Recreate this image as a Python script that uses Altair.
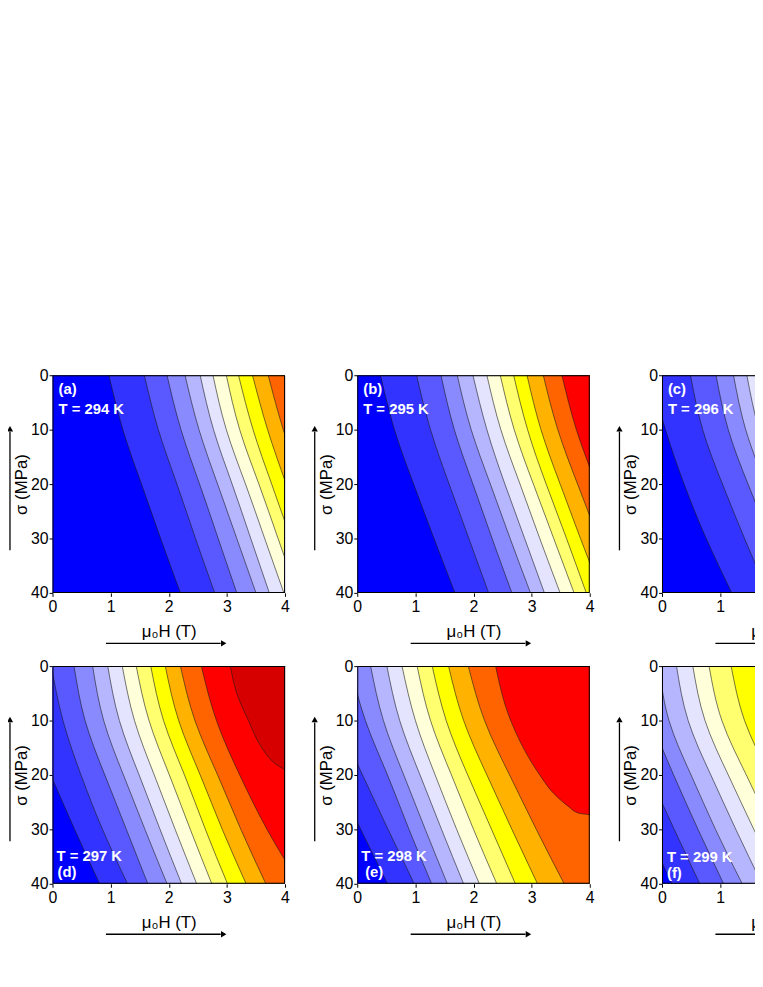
import altair as alt
import pandas as pd

# ---------------- data ----------------
BAND_COLORS = ["#0000FF", "#3333FF", "#5959FF", "#8A8AFF", "#B6B6FF", "#E4E4FF",
               "#FFFFD9", "#FFFF70", "#FFFF00", "#FFB300", "#FF6400", "#FF0000", "#D60000"]

SIGMA = [0, 10, 20, 30, 40]          # MPa rows at which contour positions were read

# contour k (k = 1, 2, ...) separates band k-1 (left) from band k (right); values are mu0H (T)
A_CONTOURS = [
    [0.97, 1.21, 1.53, 1.86, 2.20],
    [1.58, 1.82, 2.14, 2.46, 2.79],
    [1.97, 2.21, 2.53, 2.85, 3.17],
    [2.28, 2.52, 2.84, 3.17, 3.50],
    [2.54, 2.77, 3.09, 3.41, 3.73],
    [2.76, 2.99, 3.32, 3.65, 3.98],
    [2.99, 3.22, 3.55, 3.88, 4.21],
    [3.20, 3.45, 3.77, 4.10, 4.43],
    [3.44, 3.70, 4.02, 4.35, 4.67],
    [3.71, 3.97, 4.29, 4.62, 4.95],
]
B_CONTOURS = [
    [0.40, 0.64, 0.97, 1.32, 1.68],
    [1.02, 1.26, 1.58, 1.92, 2.26],
    [1.44, 1.67, 1.99, 2.32, 2.66],
    [1.72, 1.96, 2.29, 2.63, 2.98],
    [1.99, 2.23, 2.54, 2.88, 3.22],
    [2.23, 2.47, 2.80, 3.14, 3.49],
    [2.46, 2.70, 3.03, 3.38, 3.73],
    [2.69, 2.93, 3.25, 3.60, 3.94],
    [2.92, 3.16, 3.49, 3.84, 4.20],
    [3.20, 3.45, 3.79, 4.15, 4.52],
    [3.52, 3.77, 4.11, 4.46, 4.82],
]
C_CONTOURS = [
    [-0.20, 0.06, 0.38, 0.76, 1.20],
    [0.49, 0.70, 1.04, 1.42, 1.82],
    [0.93, 1.14, 1.48, 1.86, 2.26],
    [1.23, 1.44, 1.78, 2.16, 2.56],
    [1.46, 1.67, 2.01, 2.39, 2.79],
    [1.70, 1.91, 2.25, 2.63, 3.03],
]
D_CONTOURS = [
    [-0.75, -0.42, -0.03, 0.38, 0.81],
    [-0.02, 0.18, 0.49, 0.86, 1.29],
    [0.37, 0.56, 0.90, 1.27, 1.64],
    [0.69, 0.88, 1.22, 1.59, 1.97],
    [0.95, 1.15, 1.49, 1.85, 2.22],
    [1.20, 1.41, 1.75, 2.11, 2.48],
    [1.44, 1.66, 2.01, 2.37, 2.74],
    [1.69, 1.91, 2.27, 2.63, 3.01],
    [1.94, 2.17, 2.54, 2.92, 3.33],
    [2.20, 2.45, 2.84, 3.24, 3.67],
    [2.56, 2.82, 3.22, 3.69, 4.25],
]
D_LAST_SIGMA = [0, 5, 10, 15, 17, 18, 19, 20, 25, 40]
D_LAST_H = [3.06, 3.17, 3.37, 3.60, 3.74, 3.84, 4.00, 4.20, 4.80, 6.50]

E_CONTOURS = [
    [-1.05, -0.75, -0.38, 0.06, 0.52],
    [-0.58, -0.31, 0.09, 0.53, 0.98],
    [-0.12, 0.14, 0.52, 0.89, 1.28],
    [0.23, 0.45, 0.80, 1.17, 1.55],
    [0.51, 0.73, 1.08, 1.45, 1.83],
    [0.77, 1.00, 1.34, 1.71, 2.10],
    [1.03, 1.26, 1.62, 2.00, 2.40],
    [1.29, 1.53, 1.90, 2.31, 2.72],
    [1.57, 1.83, 2.23, 2.66, 3.10],
    [1.91, 2.19, 2.62, 3.08, 3.56],
]
E_LAST_SIGMA = [0, 10, 20, 23.4, 26.1, 26.8, 27.1, 27.3, 28, 40]
E_LAST_H = [2.38, 2.64, 3.14, 3.38, 3.67, 3.76, 3.85, 4.00, 4.40, 6.00]

F_CONTOURS = [
    [-1.40, -1.08, -0.70, -0.27, 0.17],
    [-0.95, -0.63, -0.22, 0.21, 0.65],
    [-0.40, -0.17, 0.20, 0.62, 1.06],
    [-0.05, 0.12, 0.50, 0.92, 1.38],
    [0.25, 0.45, 0.84, 1.27, 1.72],
    [0.53, 0.74, 1.14, 1.58, 2.05],
    [0.81, 1.03, 1.45, 1.90, 2.40],
    [1.19, 1.42, 1.85, 2.32, 2.82],
    [1.62, 1.86, 2.30, 2.80, 3.30],
]

X_TICKS = [0, 0.5, 1, 1.5, 2, 2.5, 3, 3.5, 4]
Y_TICKS = [0, 5, 10, 15, 20, 25, 30, 35, 40]

# ---------------- chart ----------------
W, HGT = 235, 220
FONT = "Liberation Sans"

xscale = alt.Scale(domain=[0, 4], nice=False, zero=False)
yscale = alt.Scale(domain=[0, 40], reverse=True, nice=False, zero=False)

xaxis = alt.Axis(
    values=X_TICKS,
    labelExpr="datum.value % 1 === 0 ? '' + datum.value : ''",
    tickSize={"condition": {"test": "datum.value % 1 === 0", "value": 3.5}, "value": 2},
    title="μ₀H (T)", titlePadding=9, labelPadding=2.5,
    labelOverlap=False, labelFlush=False, domain=False, grid=False,
)
yaxis = alt.Axis(
    values=Y_TICKS,
    labelExpr="datum.value % 10 === 0 ? '' + datum.value : ''",
    tickSize={"condition": {"test": "datum.value % 10 === 0", "value": 3.5}, "value": 2},
    title="σ (MPa)", titlePadding=0, labelPadding=1,
    labelOverlap=False, labelFlush=False, domain=False, grid=False,
)

ONE = pd.DataFrame({"d": [0]})


def contour_layers(contours, extra=None):
    items = [(SIGMA, c, "natural") for c in contours]
    if extra is not None:
        items.append((extra[0], extra[1], "monotone"))
    layers = [
        alt.Chart(ONE).mark_rect(fill=BAND_COLORS[0]).encode(
            x=alt.X(datum=0, scale=xscale), x2=alt.datum(4),
            y=alt.Y(datum=0, scale=yscale), y2=alt.datum(40))
    ]
    for k, (sig, hs, interp) in enumerate(items, start=1):
        df = pd.DataFrame({"sigma": sig, "H": hs})
        layers.append(
            alt.Chart(df).mark_area(
                orient="horizontal", interpolate=interp, clip=True,
                fill=BAND_COLORS[k], stroke="#1a1a1a", strokeWidth=0.6,
            ).encode(
                y=alt.Y("sigma:Q", scale=yscale, axis=yaxis),
                x=alt.X("H:Q", scale=xscale, axis=xaxis),
                x2=alt.datum(6),
            )
        )
    return layers


def label(txt, x, y):
    return alt.Chart(pd.DataFrame({"t": [txt]})).mark_text(
        align="left", baseline="alphabetic", font=FONT, fontSize=15,
        fontWeight="bold", color="white",
    ).encode(text="t:N", x=alt.value(x), y=alt.value(y))


def arrows():
    hx = alt.Chart(ONE).mark_rule(color="black", strokeWidth=1.3).encode(
        x=alt.value(54), x2=alt.value(170), y=alt.value(271))
    hx_head = alt.Chart(ONE).mark_point(
        shape="triangle-right", filled=True, size=40, color="black", opacity=1
    ).encode(x=alt.value(173), y=alt.value(271))
    vy = alt.Chart(ONE).mark_rule(color="black", strokeWidth=1.3).encode(
        x=alt.value(-43), y=alt.value(177), y2=alt.value(57))
    vy_head = alt.Chart(ONE).mark_point(
        shape="triangle-up", filled=True, size=40, color="black", opacity=1
    ).encode(x=alt.value(-43), y=alt.value(54))
    return [hx, hx_head, vy, vy_head]


def frame():
    return alt.Chart(ONE).mark_rect(
        fillOpacity=0, stroke="black", strokeWidth=2, clip=True
    ).encode(x=alt.datum(0), x2=alt.datum(4), y=alt.datum(0), y2=alt.datum(40))


def panel(contours, texts, extra=None):
    layers = contour_layers(contours, extra)
    layers.append(frame())
    layers += [label(t, x, y) for (t, x, y) in texts]
    layers += arrows()
    return alt.layer(*layers).properties(width=W, height=HGT)


pa = panel(A_CONTOURS, [("(a)", 6, 19), ("T = 294 K", 6, 39)])
pb = panel(B_CONTOURS, [("(b)", 6, 19), ("T = 295 K", 6, 39)])
pc = panel(C_CONTOURS, [("(c)", 6, 19), ("T = 296 K", 6, 39)])
pd_ = panel(D_CONTOURS, [("T = 297 K", 4, 197), ("(d)", 5, 213)], (D_LAST_SIGMA, D_LAST_H))
pe = panel(E_CONTOURS, [("T = 298 K", 4, 197), ("(e)", 8, 213)], (E_LAST_SIGMA, E_LAST_H))
pf = panel(F_CONTOURS, [("T = 299 K", 5, 198), ("(f)", 5, 214)])

row1 = alt.hconcat(pa, pb, pc, spacing=21)
row2 = alt.hconcat(pd_, pe, pf, spacing=21)

chart = alt.vconcat(row1, row2, spacing=11).properties(
    autosize=alt.AutoSizeParams(type="none"),
    padding={"left": 45, "top": 366, "right": 710, "bottom": 600},
).configure_view(strokeWidth=0).configure_axis(
    labelFont=FONT, labelFontSize=16, labelColor="black",
    titleFont=FONT, titleFontSize=17, titleFontWeight="normal", titleColor="black",
    tickColor="black", tickWidth=1,
)

chart.save("out.html", embed_options={"renderer": "svg", "actions": False})
